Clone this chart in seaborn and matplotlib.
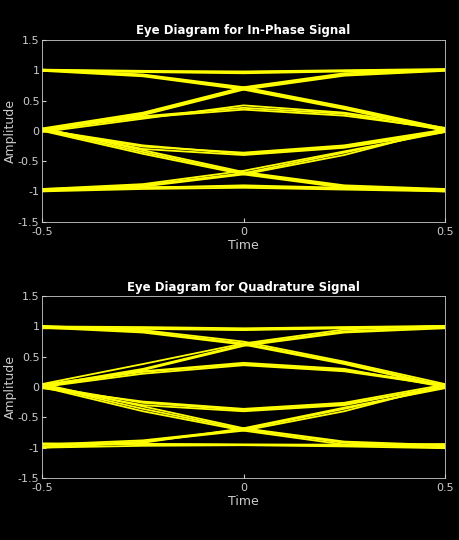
import matplotlib
matplotlib.use("Agg")
import matplotlib.pyplot as plt
import seaborn as sns
import pandas as pd

time = [-0.5, -0.25, 0, 0.25, 0.5]

# each row: amplitude at the five time samples
inphase_traces = [
    [1.00, 0.98, 0.97, 0.99, 1.01], [0.99, 0.97, 0.95, 0.98, 1.00], [1.01, 0.99, 0.98, 1.00, 1.02],
    [1.00, 0.92, 0.70, 0.38, 0.02], [0.99, 0.90, 0.68, 0.36, 0.00], [1.01, 0.93, 0.72, 0.40, 0.04],
    [0.02, 0.28, 0.70, 0.93, 1.00], [0.00, 0.26, 0.68, 0.91, 0.99], [0.04, 0.30, 0.72, 0.95, 1.01],
    [0.02, 0.22, 0.35, 0.25, 0.03], [0.00, 0.24, 0.38, 0.28, 0.01], [-0.02, 0.20, 0.42, 0.30, 0.05],
    [0.02, -0.24, -0.38, -0.26, 0.00], [0.00, -0.26, -0.36, -0.24, 0.02], [0.04, -0.30, -0.40, -0.28, -0.02],
    [-0.97, -0.90, -0.70, -0.36, 0.00], [-0.99, -0.92, -0.72, -0.40, 0.03], [-0.96, -0.88, -0.66, -0.34, -0.02],
    [0.02, -0.35, -0.70, -0.92, -0.98], [0.00, -0.38, -0.72, -0.94, -1.00], [0.04, -0.32, -0.68, -0.90, -0.96],
    [-0.98, -0.94, -0.90, -0.94, -0.98], [-1.00, -0.96, -0.94, -0.97, -1.00], [-0.96, -0.93, -0.92, -0.95, -0.97],
]
quadrature_traces = [
    [0.98, 0.97, 0.95, 0.98, 1.00], [1.00, 0.99, 0.97, 0.99, 1.01], [0.97, 0.96, 0.94, 0.97, 0.99],
    [1.00, 0.92, 0.72, 0.40, 0.02], [0.98, 0.90, 0.70, 0.38, 0.00], [1.01, 0.94, 0.75, 0.42, 0.05],
    [0.02, 0.30, 0.70, 0.92, 0.99], [0.00, 0.28, 0.68, 0.90, 0.97], [0.05, 0.38, 0.72, 0.95, 1.01],
    [0.02, 0.25, 0.38, 0.28, 0.04], [0.00, 0.22, 0.36, 0.26, 0.02], [0.04, 0.26, 0.40, 0.30, 0.00],
    [0.02, -0.26, -0.38, -0.28, 0.00], [0.00, -0.30, -0.40, -0.30, 0.02], [-0.02, -0.24, -0.36, -0.26, 0.04],
    [-0.95, -0.88, -0.70, -0.36, 0.00], [-0.98, -0.90, -0.72, -0.40, 0.03], [-1.00, -0.92, -0.68, -0.34, -0.02],
    [0.02, -0.36, -0.70, -0.92, -0.98], [0.00, -0.40, -0.72, -0.95, -1.00], [0.05, -0.32, -0.68, -0.90, -0.96],
    [-0.95, -0.94, -0.95, -0.96, -0.96], [-1.00, -0.97, -0.96, -0.98, -1.01], [-0.93, -0.94, -0.95, -0.95, -0.94],
]

def to_df(traces):
    rows = []
    for i, tr in enumerate(traces):
        for t, v in zip(time, tr):
            rows.append({"trace": i, "Time": t, "Amplitude": v})
    return pd.DataFrame(rows)

sns.set_style("dark")
plt.rcParams["font.family"] = ["DejaVu Sans"]
fig, axes = plt.subplots(2, 1, figsize=(4.6, 5.4), dpi=100)
fig.patch.set_facecolor("black")
titles = ["Eye Diagram for In-Phase Signal", "Eye Diagram for Quadrature Signal"]
for ax, traces, title in zip(axes, [inphase_traces, quadrature_traces], titles):
    df = to_df(traces)
    sns.lineplot(data=df, x="Time", y="Amplitude", units="trace", estimator=None,
                 color="#ffff00", linewidth=1.3, ax=ax)
    ax.set_facecolor("black")
    ax.set_xlim(-0.5, 0.5)
    ax.set_ylim(-1.5, 1.5)
    ax.set_xticks([-0.5, 0, 0.5])
    ax.set_xticklabels(["-0.5", "0", "0.5"])
    ax.set_yticks([-1.5, -1, -0.5, 0, 0.5, 1, 1.5])
    ax.set_yticklabels(["-1.5", "-1", "-0.5", "0", "0.5", "1", "1.5"])
    ax.set_title(title, color="white", fontweight="bold", fontsize=8.5, pad=4)
    ax.set_xlabel("Time", color="#cccccc", fontsize=9, labelpad=1)
    ax.set_ylabel("Amplitude", color="#cccccc", fontsize=9, labelpad=1)
    ax.tick_params(colors="#cccccc", labelsize=8, direction="in", length=3, pad=2,
                   left=True, bottom=True)
    ax.tick_params(axis="x", pad=4)
    ax.grid(False)
    for s in ax.spines.values():
        s.set_color("#cccccc")
        s.set_linewidth(0.6)
fig.subplots_adjust(left=0.092, right=0.967, top=0.926, bottom=0.115, hspace=0.41)
fig.savefig("out.png", facecolor="black")
